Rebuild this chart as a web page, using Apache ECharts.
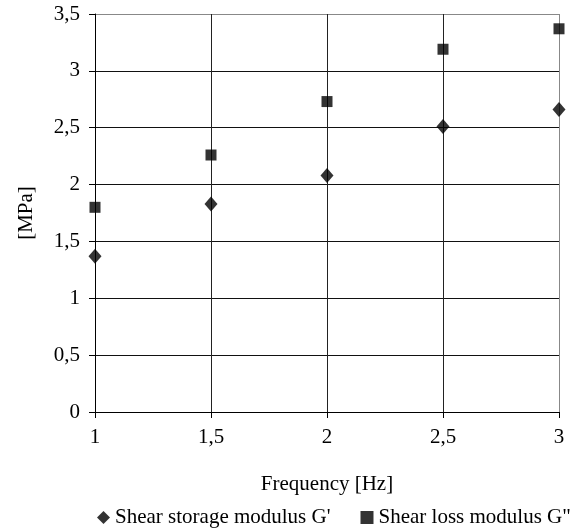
<!DOCTYPE html>
<html>
<head>
<meta charset="utf-8">
<script src="https://cdn.jsdelivr.net/npm/echarts@6/dist/echarts.min.js"></script>
<style>
  html, body { margin: 0; padding: 0; background: #fff; }
  #chart { width: 583px; height: 531px; }
</style>
</head>
<body>
<div id="chart"></div>
<script>
const frequency = [1, 1.5, 2, 2.5, 3];
const storageModulus = [1.37, 1.83, 2.08, 2.51, 2.66];
const lossModulus = [1.80, 2.26, 2.73, 3.19, 3.37];

const font = 'Liberation Serif';
const comma = v => String(v).replace('.', ',');

const chart = echarts.init(document.getElementById('chart'));

const option = {
  backgroundColor: '#fff',
  animation: false,
  textStyle: { fontFamily: font, color: '#000' },
  grid: { left: 95, right: 24, top: 14, bottom: 119 },
  legend: {
    bottom: -2,
    left: 92,
    itemGap: 30,
    itemWidth: 13,
    itemHeight: 13,
    textStyle: { fontFamily: font, fontSize: 21, color: '#000' },
    data: [
      { name: "Shear storage modulus G'", icon: 'diamond' },
      { name: 'Shear loss modulus G"', icon: 'rect' }
    ]
  },
  xAxis: {
    type: 'value',
    min: 1,
    max: 3,
    interval: 0.5,
    name: 'Frequency [Hz]',
    nameLocation: 'middle',
    nameGap: 62,
    nameTextStyle: { fontFamily: font, fontSize: 21, color: '#000' },
    axisLine: { show: true, lineStyle: { color: '#000', width: 1 } },
    axisTick: { show: true, length: 6, lineStyle: { color: '#000' } },
    axisLabel: { fontFamily: font, fontSize: 21, color: '#000', margin: 15, formatter: comma },
    splitLine: { show: true, lineStyle: { color: ['#000', '#222', '#222', '#222', '#888'], width: 1 } }
  },
  yAxis: {
    type: 'value',
    min: 0,
    max: 3.5,
    interval: 0.5,
    name: '[MPa]',
    nameLocation: 'middle',
    nameGap: 58,
    nameTextStyle: { fontFamily: font, fontSize: 21, color: '#000' },
    axisLine: { show: true, lineStyle: { color: '#000', width: 1 } },
    axisTick: { show: true, length: 6, lineStyle: { color: '#000' } },
    axisLabel: { fontFamily: font, fontSize: 21, color: '#000', margin: 15, formatter: comma },
    splitLine: { show: true, lineStyle: { color: ['#000', '#111', '#111', '#111', '#111', '#111', '#111', '#888'], width: 1 } }
  },
  series: [
    {
      name: "Shear storage modulus G'",
      type: 'scatter',
      symbol: 'diamond',
      symbolSize: [13, 15],
      itemStyle: { color: '#000' },
      data: frequency.map((f, i) => [f, storageModulus[i]])
    },
    {
      name: 'Shear loss modulus G"',
      type: 'scatter',
      symbol: 'rect',
      symbolSize: 11,
      itemStyle: { color: '#000' },
      data: frequency.map((f, i) => [f, lossModulus[i]])
    }
  ]
};

chart.setOption(option);
</script>
</body>
</html>
